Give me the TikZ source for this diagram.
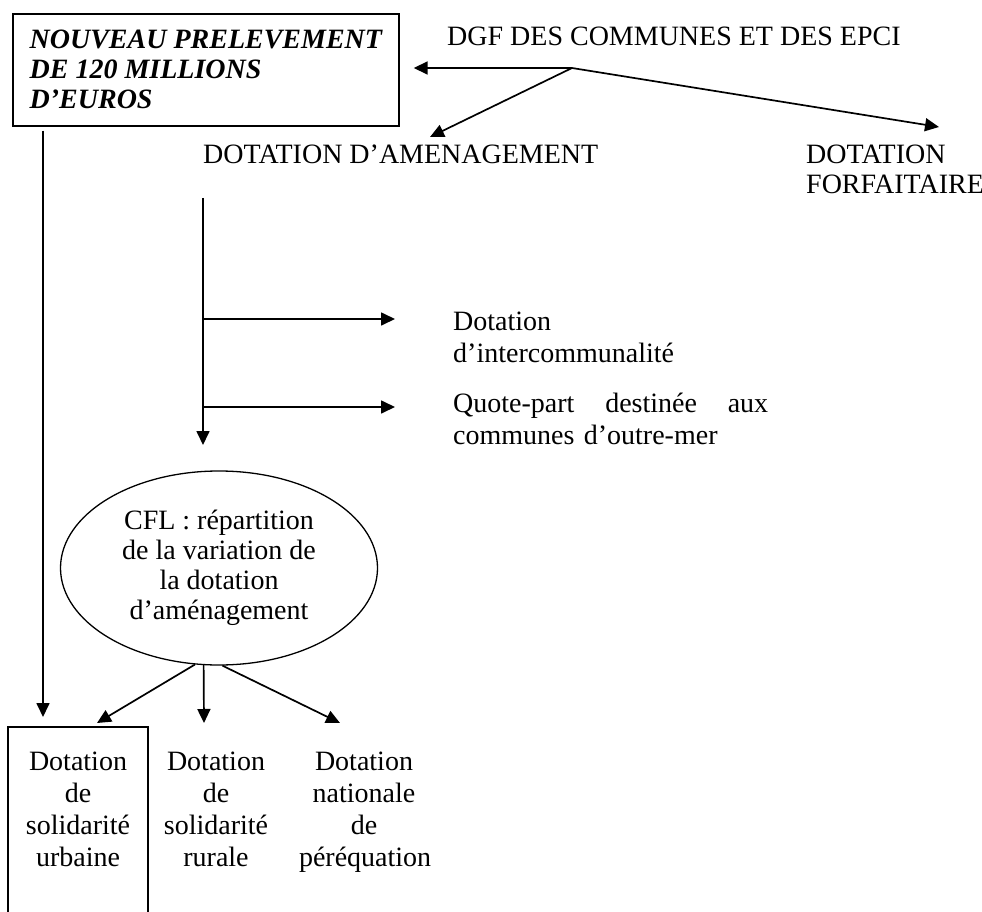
\documentclass[tikz,border=0pt]{standalone}
\usepackage{fontspec}
\setmainfont{Liberation Serif}
\usepackage{tikz}
\usetikzlibrary{arrows.meta,shapes.geometric}
\newcommand{\txtsize}{\fontsize{28}{30}\selectfont}
\newcommand{\widesize}{\fontsize{28}{32}\selectfont}
\tikzset{
  plain/.style={
    inner sep=0pt,
    font=\txtsize,
    align=left
  },
  prelbox/.style={
    rectangle,
    draw=black,
    line width=1.7pt,
    minimum width=386pt,
    minimum height=112pt,
    inner sep=0pt,
    align=left,
    font=\txtsize\bfseries\itshape
  },
  cflnode/.style={
    ellipse,
    draw=black,
    line width=1.3pt,
    minimum width=317pt,
    minimum height=194pt,
    inner sep=0pt,
    align=center,
    font=\txtsize
  },
  column/.style={
    inner sep=0pt,
    text width=130pt,
    align=center,
    font=\widesize
  },
  urbframe/.style={line width=1.3pt},
  flow/.style={-{Triangle[length=14pt,width=13pt]}, line width=1.7pt}
}
\begin{document}
\begin{tikzpicture}[x=1pt,y=-1pt]
\useasboundingbox (0,0) rectangle (982,912);
\clip (0,0) rectangle (982,912);
\node[prelbox, anchor=north west] (prel) at (12,13) {NOUVEAU PRELEVEMENT\\DE 120 MILLIONS\\D’EUROS};
\node[plain, anchor=base west] (dgf) at (447,46) {DGF DES COMMUNES ET DES EPCI};
\node[plain, anchor=base west] (amen) at (203,164) {DOTATION D’AMENAGEMENT};
\node[plain, anchor=north west] (forf) at (806,145) {DOTATION\\FORFAITAIRE};
\node[plain, anchor=north west, text width=315pt, font=\widesize] (inter) at (453,312) {Dotation\\d’intercommunalité};
\node[plain, anchor=north west, text width=315pt, font=\widesize] (qp) at (453,393) {Quote-part\hfill destinée\hfill aux\\communes d’outre-mer};
\node[cflnode] (cfl) at (219,568) {CFL : répartition\\de la variation de\\la dotation\\d’aménagement};
\node[column, anchor=north] (dsu) at (78,752) {Dotation\\de\\solidarité\\urbaine};
\node[column, anchor=north] (dsr) at (216,752) {Dotation\\de\\solidarité\\rurale};
\node[column, anchor=north] (dnp) at (364,752) {Dotation\\nationale\\de\\péréquation};
\coordinate (split) at (572,68);
\coordinate (tipamen) at (430,137);
\coordinate (tipforf) at (939,127);
\coordinate (trunk) at (203,198);
\coordinate (trunkend) at (203,445);
\coordinate (tipinter) at (395,319);
\coordinate (tipqp) at (395,407);
\coordinate (tipurb) at (43,717);
\coordinate (tipdsu) at (97,723);
\coordinate (tipdsr) at (204,723);
\coordinate (tipdnp) at (340,723);
\draw[flow, shorten >=14pt] (split) -- (prel.east |- split);
\draw[flow] (split) -- (tipamen);
\draw[flow] (split) -- (tipforf);
\draw[flow] (trunk) -- (trunkend);
\draw[flow] (trunk |- tipinter) -- (tipinter);
\draw[flow] (trunk |- tipqp) -- (tipqp);
\draw[flow, shorten <=4pt] (prel.south -| tipurb) -- (tipurb);
\draw[flow] (cfl.256) -- (tipdsu);
\draw[flow] (cfl.261) -- (tipdsr);
\draw[flow] (cfl.272) -- (tipdnp);
\draw[urbframe] (8,920) |- (148,727) -- (148,920);
\end{tikzpicture}
\end{document}
